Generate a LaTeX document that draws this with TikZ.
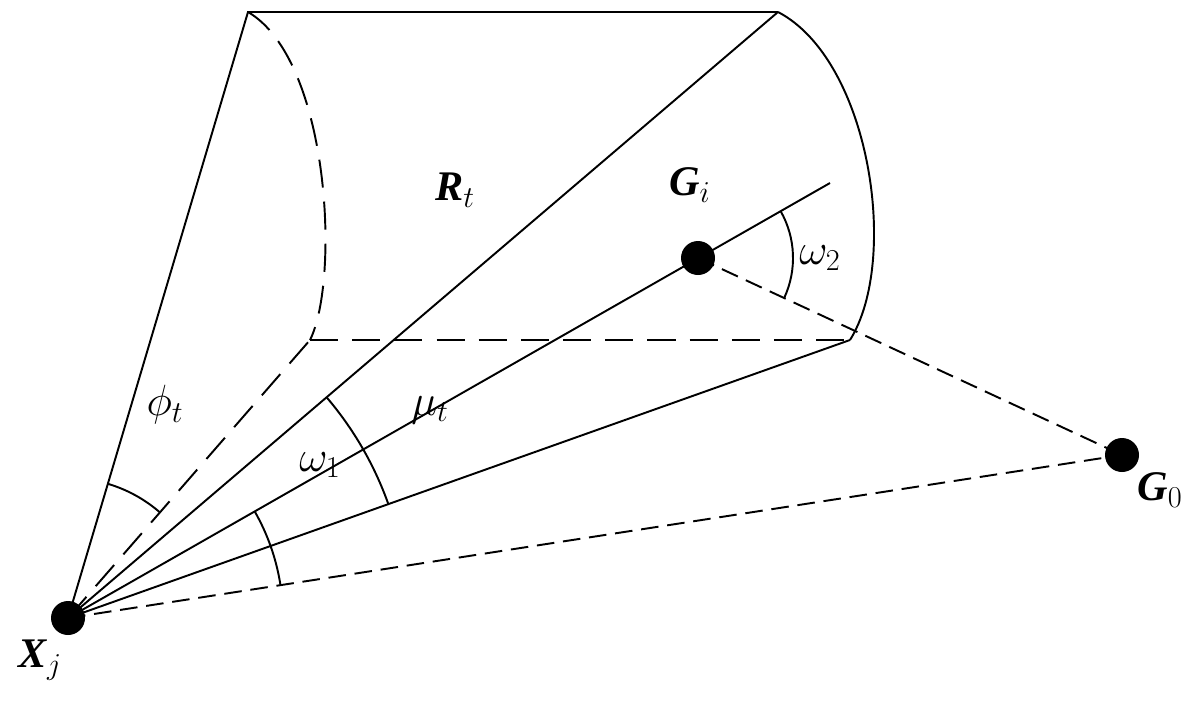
\documentclass[tikz,border=0pt]{standalone}
\usepackage{fontspec}
\setmainfont{Liberation Serif}
\usetikzlibrary{calc}
\begin{document}
\begin{tikzpicture}[line width=1.1pt,
  longdash/.style={dash pattern=on 16pt off 8pt},
  shortdash/.style={dash pattern=on 10pt off 5pt},
  dot/.style={circle,fill=black,inner sep=0pt,minimum size=0.68cm},
  lab/.style={font=\fontsize{24}{28}\selectfont}]
\useasboundingbox (0,0) rectangle (24,14.16);
\node[dot] (X) at (1.36,1.80) {};
\node[dot] (Gi) at (13.96,9.0) {};
\node[dot] (G0) at (22.44,5.06) {};
\coordinate (TL) at (4.96,13.92);
\coordinate (TR) at (15.56,13.92);
\coordinate (BR) at (17.0,7.36);
\coordinate (BL) at (6.2,7.36);
\coordinate (AE) at (16.6,10.5);
\draw (X.center) -- (TL) -- (TR);
\draw (X.center) -- (TR);
\draw (X.center) -- (BR);
\draw (X.center) -- (AE);
\draw (TR) .. controls (17.4,12.96) and (18.0,8.96) .. (BR);
\draw[longdash] (TL) .. controls (6.6,12.96) and (6.8,8.56) .. (BL);
\draw[longdash] (BL) -- (BR);
\draw[longdash] (X.center) -- (BL);
\draw[shortdash] (Gi.center) -- (G0.center);
\draw[shortdash] (X.center) -- (G0.center);
\draw ($(X.center)+(73.5:2.8)$) arc[start angle=73.5,end angle=49,radius=2.8];
\draw ($(X.center)+(40.5:6.8)$) arc[start angle=40.5,end angle=19.6,radius=6.8];
\draw ($(X.center)+(29.7:4.3)$) arc[start angle=29.7,end angle=8.8,radius=4.3];
\draw ($(Gi.center)+(29.6:1.9)$) arc[start angle=29.6,end angle=-24.9,radius=1.9];
\node[lab] (phi) at (3.3,6.06) {$\phi_t$};
\node[lab] (mu) at (8.6,5.96) {$\mu_t$};
\node[lab] (w1) at (6.4,4.86) {$\omega_1$};
\node[lab] (w2) at (16.4,9.0) {$\omega_2$};
\node[lab] (R) at (9.1,10.36) {\textbf{\textit{R}}$_t$};
\node[lab] (Gil) at (13.8,10.46) {\textbf{\textit{G}}$_i$};
\node[lab] (G0l) at (23.2,4.36) {\textbf{\textit{G}}$_0$};
\node[lab] (Xl) at (0.8,0.96) {\textbf{\textit{X}}$_j$};
\end{tikzpicture}
\end{document}
